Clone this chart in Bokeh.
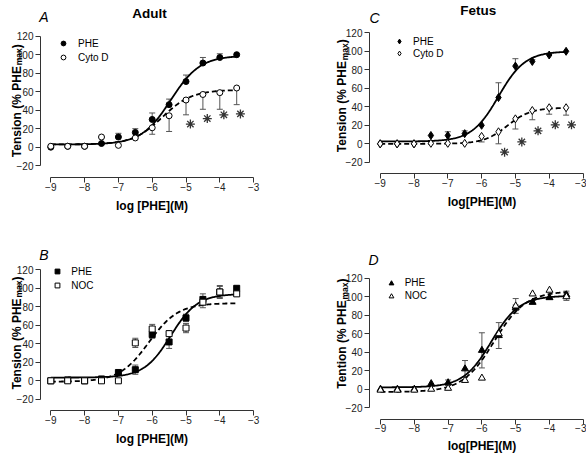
import numpy as np
from math import pi
from bokeh.plotting import figure
from bokeh.models import (Range1d, Whisker, TeeHead, ColumnDataSource, Legend,
                          LegendItem, Label, FixedTicker)
from bokeh.layouts import column, row
from bokeh.embed import file_html
from bokeh.resources import INLINE

# ---------------- data ----------------
log_phe = [-9, -8.5, -8, -7.5, -7, -6.5, -6, -5.5, -5, -4.5, -4, -3.5]
x_ticks = [-9, -8, -7, -6, -5, -4, -3]
y_ticks = [-20, 0, 20, 40, 60, 80, 100, 120]

# A: Adult, PHE vs Cyto D
adult_phe = [0, 1, 1, 4, 11, 16, 30, 46, 71, 91, 97, 100]
adult_phe_sem = [0, 0, 0, 0, 4, 4, 7, 6, 7, 6, 4, 0]
adult_cytod = [1, 1, 1, 11, 2, 10, 21, 34, 51, 57, 59, 64]
adult_cytod_sem = [0, 0, 0, 0, 0, 0, 7, 17, 16, 16, 18, 18]
adult_phe_fit = [3, 99, -5.45, 1.0]      # bottom, top, logEC50, Hill slope
adult_cytod_fit = [3, 62, -5.7, 1.0]
adult_star_x = [-4.87, -4.37, -3.88, -3.39]
adult_star_y = [25, 31, 35, 36]

# C: Fetus, PHE vs Cyto D
fetus_phe = [0, 0, 0, 9, 9, 11, 20, 50, 84, 89, 96, 100]
fetus_phe_sem = [0, 0, 0, 0, 4, 3, 0, 16, 8, 2, 1, 0]
fetus_cytod = [0, 0, 0, 0.5, 0.5, 0.5, 8, 13, 27, 36, 39, 39]
fetus_cytod_sem = [0, 0, 0, 0, 0, 0, 6, 13, 11, 10, 7, 8]
fetus_phe_fit = [2.5, 100, -5.5, 1.1]
fetus_cytod_fit = [0, 39, -5.24, 1.25]
fetus_star_x = [-5.32, -4.81, -4.33, -3.82, -3.34]
fetus_star_y = [-9, 2, 14, 20.5, 20.5]

# B: Adult, PHE vs NOC
adult2_phe = [0, 1, 0, 2, 9, 12, 50, 42, 68, 88, 96, 100]
adult2_phe_sem = [0, 0, 0, 0, 1, 5, 4, 7, 4, 6, 7, 0]
adult2_noc = [0, 0, 0, 0, 0, 41, 56, 51, 57, 85, 96, 94]
adult2_noc_sem = [0, 0, 0, 0, 0, 5, 5, 3, 5, 6, 6, 0]
adult2_phe_fit = [3.5, 94, -5.45, 1.1]
adult2_noc_fit = [-1, 84, -6.1, 1.0]

# D: Fetus, PHE vs NOC
fetus2_phe = [0, 0, 0, 6, 7, 22, 42, 58, 88, 94, 99, 102]
fetus2_phe_sem = [0, 0, 0, 0, 3, 9, 19, 14, 3, 2, 0, 4]
fetus2_noc = [-1, -1, -1, 0, 1, 9.5, 12, 60, 90, 103, 107, 100]
fetus2_noc_sem = [0, 0, 0, 0, 0, 0, 0, 0, 8, 0, 0, 4]
fetus2_phe_fit = [2, 101, -5.72, 1.05]
fetus2_noc_fit = [-3, 106, -5.64, 0.93]

# ---------------- layout helpers ----------------
FONT = "Liberation Sans"
PXX = 33.8      # pixels per log unit
PXY = 0.925     # pixels per % unit
ERR_COLOR = "#555555"


class Panel:
    """Figure whose whole canvas is the data frame; axes pinned in place."""

    def __init__(self, L, T, W, H, x9, y0, xaxis_px, yaxis_px, xlabel, xlabel_standoff=5):
        self.L, self.T, self.W, self.H = L, T, W, H
        self.x9, self.y0 = x9, y0
        p = figure(width=W, height=H,
                   x_range=Range1d(self.x(L), self.x(L + W)),
                   y_range=Range1d(self.y(T + H), self.y(T)),
                   output_backend="svg", toolbar_location=None,
                   min_border=0, min_border_left=0, min_border_right=0,
                   min_border_top=0, min_border_bottom=0)
        p.outline_line_color = None
        p.xgrid.visible = False
        p.ygrid.visible = False
        p.background_fill_color = "white"
        p.border_fill_color = "white"
        for ax in (p.xaxis[0], p.yaxis[0]):
            ax.axis_line_color = "#333333"
            ax.major_tick_line_color = "#333333"
            ax.minor_tick_line_color = None
            ax.major_tick_in = 0
            ax.major_tick_out = 5
            ax.major_label_text_font = FONT
            ax.major_label_text_font_size = "10px"
            ax.major_label_text_color = "#222222"
        p.xaxis.major_label_standoff = 0
        p.yaxis.major_label_standoff = 2
        p.xaxis.fixed_location = self.y(xaxis_px)
        p.yaxis.fixed_location = self.x(yaxis_px)
        p.xaxis.ticker = FixedTicker(ticks=x_ticks)
        p.yaxis.ticker = FixedTicker(ticks=y_ticks)
        p.xaxis.bounds = (x_ticks[0], x_ticks[-1])
        p.yaxis.bounds = (y_ticks[0], y_ticks[-1])
        p.xaxis.axis_label = xlabel
        p.xaxis.axis_label_text_font = FONT
        p.xaxis.axis_label_text_font_size = "12px"
        p.xaxis.axis_label_text_font_style = "bold"
        p.xaxis.axis_label_text_color = "black"
        p.xaxis.axis_label_standoff = xlabel_standoff
        self.p = p

    # screen pixel -> data
    def x(self, sx):
        return -9 + (sx - self.x9) / PXX

    def y(self, sy):
        return (self.y0 - sy) / PXY

    def series(self, y, sem, err_mode, fit, dash, marker, fill, size):
        p = self.p
        b, t, ec, h = fit
        xf = np.linspace(log_phe[0], log_phe[-1], 221)
        yf = b + (t - b) / (1 + 10 ** ((ec - xf) * h))
        p.line(xf, yf, line_color="black", line_width=1.8, line_dash=dash)
        xs, lo, hi = [], [], []
        for xi, yi, ei in zip(log_phe, y, sem):
            if ei <= 0:
                continue
            xs.append(xi)
            lo.append(yi - ei if err_mode in ("down", "both") else yi)
            hi.append(yi + ei if err_mode in ("up", "both") else yi)
        src = ColumnDataSource(dict(base=xs, lower=lo, upper=hi))
        up_head = TeeHead(size=6, line_color=ERR_COLOR, line_width=1) if err_mode in ("up", "both") else None
        lo_head = TeeHead(size=6, line_color=ERR_COLOR, line_width=1) if err_mode in ("down", "both") else None
        p.add_layout(Whisker(source=src, base="base", lower="lower", upper="upper",
                             line_color=ERR_COLOR, line_width=1,
                             upper_head=up_head, lower_head=lo_head))
        return dict(marker=marker, fill=fill, size=size, y=y)

    def markers(self, spec):
        return self.p.scatter(log_phe, spec["y"], marker=spec["marker"], size=spec["size"],
                              fill_color=spec["fill"], line_color="black", line_width=1)

    def stars(self, sx, sy):
        self.p.scatter(sx, sy, marker="asterisk", size=9, line_color="#333333", line_width=1.3)

    def legend(self, renderers, labels, marker_sx, row1_sy, spacing, standoff=8):
        items = [LegendItem(label=l, renderers=[r]) for l, r in zip(labels, renderers)]
        height = 12 * len(items) + spacing * (len(items) - 1)
        loc = (marker_sx - 6 - self.L, (self.T + self.H) - (row1_sy - 6 + height))
        lg = Legend(items=items, location=loc, orientation="vertical",
                    border_line_color=None, background_fill_alpha=0, padding=0,
                    margin=0, spacing=spacing, glyph_width=12, glyph_height=12,
                    label_height=12, label_standoff=standoff, label_text_font=FONT,
                    label_text_font_size="10px", label_text_color="black")
        self.p.add_layout(lg)

    def ylabel(self, word, base_sx, bottom_sy, main_px):
        common = dict(angle=pi / 2, text_baseline="alphabetic", text_align="left",
                      text_font=FONT, text_font_style="bold", text_color="black")
        self.p.add_layout(Label(x=self.x(base_sx), y=self.y(bottom_sy),
                                text=word + " (% PHE", text_font_size="12px", **common))
        self.p.add_layout(Label(x=self.x(base_sx + 2.5), y=self.y(bottom_sy - main_px),
                                text="max", text_font_size="8.5px", **common))
        self.p.add_layout(Label(x=self.x(base_sx), y=self.y(bottom_sy - main_px - 17),
                                text=")", text_font_size="12px", **common))

    def text(self, sx, sy, txt, size, style):
        self.p.add_layout(Label(x=self.x(sx), y=self.y(sy), text=txt,
                                text_align="center", text_baseline="middle",
                                text_font=FONT, text_font_size=size,
                                text_font_style=style, text_color="black"))


# ---------------- panels ----------------
# Panel A (Adult, Cyto D)
A = Panel(0, 0, 293, 226, x9=50.3, y0=146.7, xaxis_px=177, yaxis_px=40, xlabel="log [PHE](M)")
sA1 = A.series(adult_phe, adult_phe_sem, "up", adult_phe_fit, "solid", "circle", "black", 6)
sA2 = A.series(adult_cytod, adult_cytod_sem, "down", adult_cytod_fit, "5 3", "circle", "white", 6)
rA1, rA2 = A.markers(sA1), A.markers(sA2)
A.stars(adult_star_x, adult_star_y)
A.legend([rA1, rA2], ["PHE", "Cyto D"], 63, 43.3, 2, 9)
A.ylabel("Tension", 16, 156.7, 92)
A.text(149, 13.3, "Adult", "13.5px", "bold")
A.text(43.3, 16.7, "A", "14px", "italic")

# Panel C (Fetus, Cyto D)
C = Panel(293, 0, 293, 226, x9=379.7, y0=143.3, xaxis_px=173, yaxis_px=369, xlabel="log[PHE](M)")
sC1 = C.series(fetus_phe, fetus_phe_sem, "up", fetus_phe_fit, "solid", "diamond", "black", 8)
sC2 = C.series(fetus_cytod, fetus_cytod_sem, "down", fetus_cytod_fit, "5 3", "diamond", "white", 8)
rC1, rC2 = C.markers(sC1), C.markers(sC2)
C.stars(fetus_star_x, fetus_star_y)
C.legend([rC1, rC2], ["PHE", "Cyto D"], 399, 41, 0, 8)
C.ylabel("Tension", 341.5, 151.7, 92)
C.text(477.7, 9.5, "Fetus", "13.5px", "bold")
C.text(374, 17, "C", "14px", "italic")

# Panel B (Adult, NOC)
B = Panel(0, 226, 293, 227, x9=50.3, y0=380.3, xaxis_px=410.3, yaxis_px=40, xlabel="log [PHE](M)")
sB1 = B.series(adult2_phe, adult2_phe_sem, "both", adult2_phe_fit, "solid", "square", "black", 6)
sB2 = B.series(adult2_noc, adult2_noc_sem, "both", adult2_noc_fit, "5 3", "square", "white", 6)
rB1, rB2 = B.markers(sB1), B.markers(sB2)
B.legend([rB1, rB2], ["PHE", "NOC"], 57.3, 271, 2, 8)
B.ylabel("Tension", 16, 389, 92)
B.text(43.3, 254, "B", "14px", "italic")

# Panel D (Fetus, NOC)
D = Panel(293, 226, 293, 227, x9=380, y0=388.7, xaxis_px=418.7, yaxis_px=369,
          xlabel="log[PHE](M)", xlabel_standoff=3)
sD1 = D.series(fetus2_phe, fetus2_phe_sem, "both", fetus2_phe_fit, "solid", "triangle", "black", 7)
sD2 = D.series(fetus2_noc, fetus2_noc_sem, "both", fetus2_noc_fit, "5 3", "triangle", "white", 7)
rD1, rD2 = D.markers(sD1), D.markers(sD2)
D.legend([rD1, rD2], ["PHE", "NOC"], 390.7, 282.7, 1, 8)
D.ylabel("Tention", 341.7, 388.3, 89.3)
D.text(373, 259, "D", "14px", "italic")

layout = column(row(A.p, C.p), row(B.p, D.p))
open("out.html", "w").write(file_html(layout, INLINE))
